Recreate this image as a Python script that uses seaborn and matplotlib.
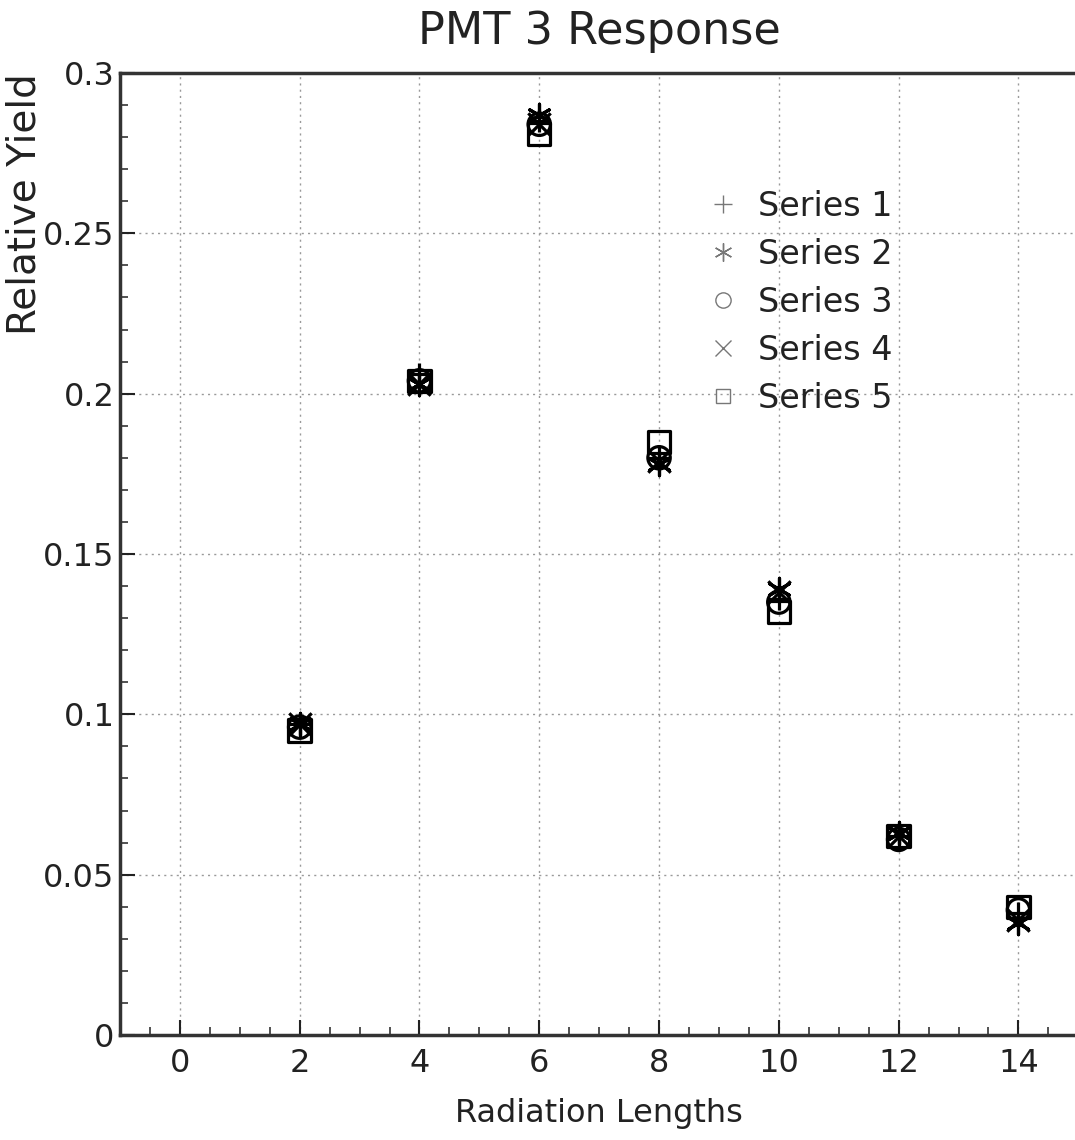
import numpy as np
import pandas as pd
import matplotlib
matplotlib.use("Agg")
import matplotlib.pyplot as plt
from matplotlib.lines import Line2D
from matplotlib.ticker import MultipleLocator, FixedLocator, FixedFormatter
import seaborn as sns

# Radiation length positions and the relative yield of each series
radiation_lengths = [2, 4, 6, 8, 10, 12, 14]
series_1 = [0.097, 0.206, 0.285, 0.180, 0.136, 0.062, 0.038]
series_2 = [0.097, 0.203, 0.287, 0.178, 0.139, 0.063, 0.035]
series_3 = [0.096, 0.204, 0.284, 0.180, 0.135, 0.061, 0.039]
series_4 = [0.097, 0.203, 0.284, 0.179, 0.138, 0.062, 0.036]
series_5 = [0.095, 0.204, 0.281, 0.185, 0.132, 0.062, 0.040]
series_names = ["Series 1", "Series 2", "Series 3", "Series 4", "Series 5"]

y_ticks = [0, 0.05, 0.1, 0.15, 0.2, 0.25, 0.3]
y_tick_labels = ["0", "0.05", "0.1", "0.15", "0.2", "0.25", "0.3"]
x_ticks = [0, 2, 4, 6, 8, 10, 12, 14]

frames = []
for name, vals in zip(series_names, [series_1, series_2, series_3, series_4, series_5]):
    frames.append(pd.DataFrame({"x": radiation_lengths, "y": vals, "series": name}))
df = pd.concat(frames, ignore_index=True)

sns.set_theme(style="white")
plt.rcParams["font.family"] = ["DejaVu Sans"]

fig = plt.figure(figsize=(10.75, 11.4), dpi=100)
ax = fig.add_axes([0.1116, 0.0921, 0.8915, 0.8439])

asterisk = (6, 2, 0)
styles = {
    "Series 1": dict(marker="+", color="black"),
    "Series 2": dict(marker=asterisk, color="black"),
    "Series 3": dict(marker="o", facecolors="none", edgecolors="black"),
    "Series 4": dict(marker="x", color="black"),
    "Series 5": dict(marker="s", facecolors="none", edgecolors="black"),
}
for name in series_names:
    sub = df[df["series"] == name]
    sns.scatterplot(data=sub, x="x", y="y", ax=ax, s=260, linewidth=2.3,
                    legend=False, zorder=3, **styles[name])

ax.set_xlim(-1, 15)
ax.set_ylim(0, 0.3)

ax.xaxis.set_major_locator(FixedLocator(x_ticks))
ax.xaxis.set_minor_locator(MultipleLocator(0.5))
ax.yaxis.set_major_locator(FixedLocator(y_ticks))
ax.yaxis.set_major_formatter(FixedFormatter(y_tick_labels))
ax.yaxis.set_minor_locator(MultipleLocator(0.01))

ax.tick_params(axis="both", which="major", direction="in", length=11, width=1.5,
               labelsize=23, colors="#222222", pad=9)
ax.tick_params(axis="both", which="minor", direction="in", length=6, width=1.2,
               colors="#333333")
ax.tick_params(axis="y", which="both", left=True, right=False)
ax.tick_params(axis="x", which="both", bottom=True, top=False)
ax.tick_params(axis="y", which="major", pad=4)

ax.grid(True, which="major", linestyle=(0, (1.5, 3)), linewidth=1.0, color="#9a9a9a")

for side in ["left", "bottom", "top"]:
    ax.spines[side].set_visible(True)
    ax.spines[side].set_linewidth(2.5)
    ax.spines[side].set_color("#333333")
ax.spines["right"].set_visible(False)

ax.set_xlabel("Radiation Lengths", fontsize=23, color="#222222", labelpad=14)
ax.set_ylabel("Relative Yield", fontsize=28, color="#222222", loc="top", labelpad=0)
fig.text(0.558, 0.972, "PMT 3 Response", fontsize=32, ha="center", va="center",
         color="#222222")

legend_handles = [
    Line2D([], [], linestyle="none", marker="+", markersize=13, mew=1.0, color="#777777"),
    Line2D([], [], linestyle="none", marker=asterisk, markersize=13, mew=1.0, color="#777777"),
    Line2D([], [], linestyle="none", marker="o", markersize=11, mew=1.0,
           markerfacecolor="none", markeredgecolor="#777777"),
    Line2D([], [], linestyle="none", marker="x", markersize=11, mew=1.0, color="#777777"),
    Line2D([], [], linestyle="none", marker="s", markersize=10, mew=1.0,
           markerfacecolor="none", markeredgecolor="#777777"),
]
leg = fig.legend(legend_handles, series_names, loc="upper left",
                 bbox_to_anchor=(0.645, 0.845), frameon=False, fontsize=24,
                 handlelength=1.0, handletextpad=0.55, labelspacing=0.45,
                 borderaxespad=0)
for t in leg.get_texts():
    t.set_color("#222222")

fig.savefig("out.png", dpi=100, facecolor="white")
